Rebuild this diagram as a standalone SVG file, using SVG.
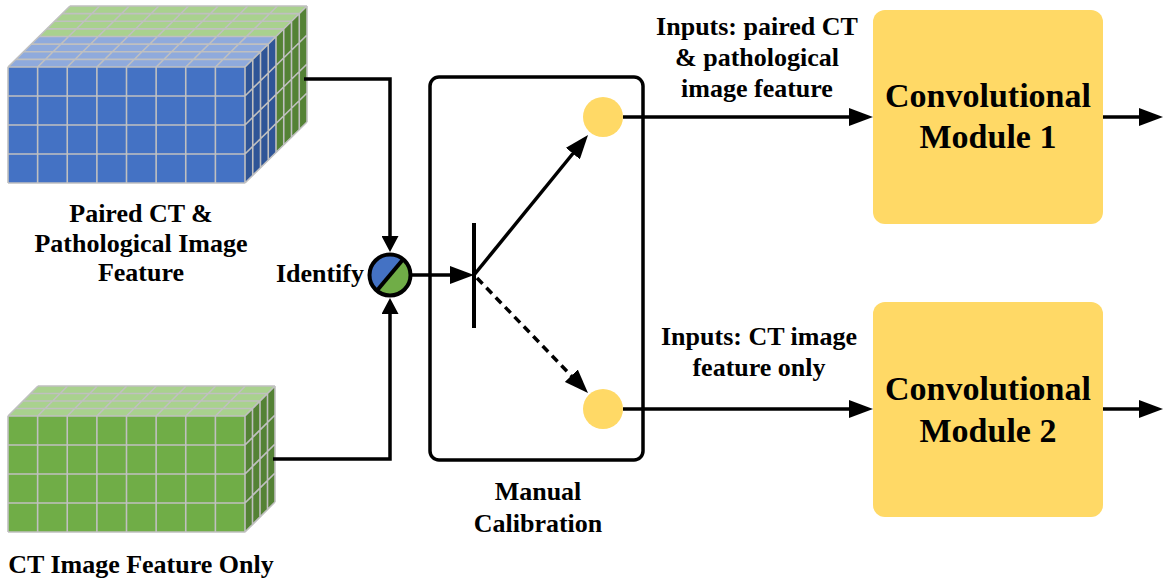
<svg xmlns="http://www.w3.org/2000/svg" width="1165" height="581" viewBox="0 0 1165 581">
<style>
.t{font-weight:bold;fill:#000;text-anchor:middle}
.lbl{font-size:26px}
.mod{font-size:34px}
.grid{fill:none;stroke:#C0C0C0;stroke-width:1.6}
.conn{fill:none;stroke:#000;stroke-width:3.5}
.dash{stroke-dasharray:8 5.5}
.modbox{fill:#FFD966}
.dot{fill:#FFD966}
</style>
<defs>
<marker id="ah" markerUnits="userSpaceOnUse" markerWidth="24" markerHeight="18" viewBox="0 0 24 18" refX="4" refY="9" orient="auto">
<path d="M0,0 L24,9 L0,18 Z" fill="#000"/>
</marker>
<marker id="ahs" markerUnits="userSpaceOnUse" markerWidth="16" markerHeight="17" viewBox="0 0 16 17" refX="3" refY="8.5" orient="auto">
<path d="M0,0 L16,8.5 L0,17 Z" fill="#000"/>
</marker>
</defs>

<g font-family="Liberation Serif, Tinos, Times New Roman, DejaVu Serif, serif">
<g id="paired-feature-cube">
<rect x="8" y="67" width="237" height="116" fill="#4472C4"/>
<polygon points="8,67 245,67 276,36.5 39,36.5" fill="#8FAADC"/>
<polygon points="39,36.5 276,36.5 307,6 70,6" fill="#A9D18E"/>
<polygon points="245,67 245,183 276,152.5 276,36.5" fill="#2F5597"/>
<polygon points="276,36.5 276,152.5 307,122 307,6" fill="#548235"/>
<path class="grid" d="M8 67V183M37.63 67V183M67.25 67V183M96.88 67V183M126.5 67V183M156.13 67V183M185.75 67V183M215.38 67V183M245 67V183
M8 67H245M8 96H245M8 125H245M8 154H245M8 183H245
M8 67H245M15.75 59.38H252.75M23.5 51.75H260.5M31.25 44.13H268.25M39 36.5H276M46.75 28.88H283.75M54.5 21.25H291.5M62.25 13.63H299.25M70 6H307
M8 67l62 -61M37.63 67l62 -61M67.25 67l62 -61M96.88 67l62 -61M126.5 67l62 -61M156.13 67l62 -61M185.75 67l62 -61M215.38 67l62 -61M245 67l62 -61
M252.75 59.38V175.38M260.5 51.75V167.75M268.25 44.13V160.13M276 36.5V152.5M283.75 28.88V144.88M291.5 21.25V137.25M299.25 13.63V129.63M307 6V122
M245 96l62 -61M245 125l62 -61M245 154l62 -61M245 183l62 -61"/>
<text class="t lbl" x="141" y="222">Paired CT &amp;</text>
<text class="t lbl" x="141" y="252">Pathological Image</text>
<text class="t lbl" x="141" y="281">Feature</text>
</g>

<g id="ct-feature-cube">
<rect x="8" y="416" width="237" height="116" fill="#70AD47"/>
<polygon points="8,416 245,416 275,386 38,386" fill="#A9D18E"/>
<polygon points="245,416 245,532 275,502 275,386" fill="#548235"/>
<path class="grid" d="M8 416V532M37.63 416V532M67.25 416V532M96.88 416V532M126.5 416V532M156.13 416V532M185.75 416V532M215.38 416V532M245 416V532
M8 416H245M8 445H245M8 474H245M8 503H245M8 532H245
M15.5 408.5H252.5M23 401H260M30.5 393.5H267.5M38 386H275
M8 416l30 -30M37.63 416l30 -30M67.25 416l30 -30M96.88 416l30 -30M126.5 416l30 -30M156.13 416l30 -30M185.75 416l30 -30M215.38 416l30 -30M245 416l30 -30
M252.5 408.5V524.5M260 401V517M267.5 393.5V509.5M275 386V502
M245 445l30 -30M245 474l30 -30M245 503l30 -30M245 532l30 -30"/>
<text class="t lbl" x="141" y="573">CT Image Feature Only</text>
</g>

<g id="identify">
<path d="M403.2 259.3 A20.5 20.5 0 0 0 376.8 290.7 Z" fill="#4472C4"/>
<path d="M403.2 259.3 A20.5 20.5 0 0 1 376.8 290.7 Z" fill="#70AD47"/>
<line x1="376.8" y1="290.7" x2="403.2" y2="259.3" stroke="#000" stroke-width="4"/>
<circle cx="390" cy="275" r="20.5" fill="none" stroke="#000" stroke-width="4"/>
<text class="t lbl" x="364" y="282" style="text-anchor:end">Identify</text>
</g>

<g id="manual-calibration">
<rect x="430" y="77" width="213" height="383" rx="9" fill="none" stroke="#000" stroke-width="3.5"/>
<line x1="474" y1="223" x2="474" y2="328" stroke="#000" stroke-width="4"/>
<circle class="dot" cx="603" cy="117" r="20"/>
<circle class="dot" cx="603" cy="409" r="20"/>
<text class="t lbl" x="538" y="500">Manual</text>
<text class="t lbl" x="538" y="532">Calibration</text>
</g>

<g id="conv-module-1">
<rect class="modbox" x="873" y="10" width="230" height="214" rx="12"/>
<text class="t mod" x="988" y="107">Convolutional</text>
<text class="t mod" x="988" y="148">Module 1</text>
</g>

<g id="conv-module-2">
<rect class="modbox" x="873" y="302" width="230" height="215" rx="12"/>
<text class="t mod" x="988" y="400">Convolutional</text>
<text class="t mod" x="988" y="442">Module 2</text>
</g>

<g id="connector-labels">
<text class="t lbl" x="757" y="35">Inputs: paired CT</text>
<text class="t lbl" x="757" y="66">&amp; pathological</text>
<text class="t lbl" x="757" y="97">image feature</text>
<text class="t lbl" x="759" y="345">Inputs: CT image</text>
<text class="t lbl" x="759" y="376">feature only</text>
</g>
</g>

<g id="connectors">
<path class="conn" d="M304 79H390V239" marker-end="url(#ahs)"/>
<path class="conn" d="M273 459H390V311" marker-end="url(#ahs)"/>
<path class="conn" d="M412 275H454" marker-end="url(#ah)"/>
<path class="conn" d="M474 275L575.4 150.5" marker-end="url(#ah)"/>
<path class="conn dash" d="M477 278L574.1 378.6" marker-end="url(#ah)"/>
<path class="conn" d="M623 117H853" marker-end="url(#ah)"/>
<path class="conn" d="M623 409H853" marker-end="url(#ah)"/>
<path class="conn" d="M1103 117H1143" marker-end="url(#ah)"/>
<path class="conn" d="M1103 409H1143" marker-end="url(#ah)"/>
</g>
</svg>
